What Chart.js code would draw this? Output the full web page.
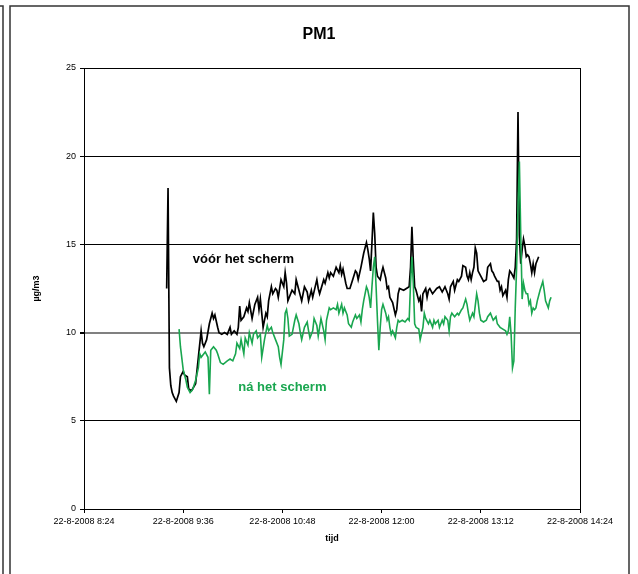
<!DOCTYPE html>
<html>
<head>
<meta charset="utf-8">
<script src="https://cdn.jsdelivr.net/npm/chart.js@4"></script>
<style>
    html, body { margin: 0; padding: 0; background: #fff; }
    #wrap { position: relative; width: 638px; height: 574px; }
</style>
</head>
<body>
<div id="wrap"><canvas id="pmChart"></canvas></div>
<script>
// Measured PM1 values, 22-8-2008
const blackTimes = ['9:24','9:25','9:26','9:27','9:28','9:29','9:31','9:33','9:34','9:36','9:37','9:39','9:40','9:42','9:45','9:47','9:49','9:50','9:51','9:53','9:55','9:57','9:58','9:59',
    '10:01','10:02','10:04','10:06','10:08','10:10','10:11','10:13','10:15','10:16','10:17','10:18','10:20','10:22','10:23','10:24','10:26','10:28','10:30','10:31','10:32','10:33','10:34','10:36','10:37','10:38','10:40','10:41','10:43','10:44','10:45','10:47','10:49','10:50','10:51','10:52','10:55','10:57','10:58',
    '11:00','11:02','11:04','11:06','11:07','11:09','11:10','11:13','11:14','11:15','11:18','11:19','11:21','11:22','11:23','11:25','11:27','11:29','11:30','11:31','11:32','11:34','11:35','11:37','11:39','11:41','11:42','11:43','11:45','11:47','11:49','11:50','11:51','11:52','11:53','11:54','11:55','11:56','11:57','11:59',
    '12:00','12:01','12:03','12:04','12:05','12:06','12:08','12:10','12:11','12:12','12:13','12:16','12:18','12:20','12:21','12:22','12:23','12:24','12:25','12:27','12:28','12:29','12:30','12:32','12:33','12:34','12:35','12:37','12:39','12:40','12:42','12:44','12:46','12:48','12:49','12:50','12:52','12:53','12:55','12:56','12:58','12:59',
    '13:01','13:02','13:03','13:04','13:05','13:06','13:07','13:08','13:09','13:10','13:12','13:14','13:16','13:17','13:19','13:20','13:21','13:22','13:24','13:25','13:26','13:27','13:28','13:30','13:31','13:32','13:33','13:34','13:36','13:37','13:38','13:39','13:40','13:41','13:42','13:43','13:44','13:45','13:46','13:47','13:48','13:49','13:50','13:51','13:52','13:53','13:54'];
const blackValues = [12.5,18.2,8.0,7.0,6.6,6.4,6.1,6.6,7.5,7.8,7.6,7.5,6.8,6.7,7.1,8.6,10.1,9.4,9.2,9.6,10.5,11.1,10.8,11.0,
    10.3,10.0,9.9,10.0,9.9,10.3,9.9,10.1,9.9,10.3,11.5,10.7,10.9,11.4,11.2,11.7,10.8,11.6,12.0,11.3,11.9,11.1,10.3,11.1,10.9,11.8,12.6,12.2,12.5,12.4,12.0,13.0,12.6,13.4,12.8,11.8,12.4,12.2,13.0,
    12.4,11.8,12.6,12.3,11.8,12.4,12.0,13.0,12.5,12.2,13.0,12.8,13.4,13.1,13.4,13.2,13.7,13.4,13.8,13.3,13.6,12.8,12.5,12.5,13.0,13.5,13.4,13.0,13.7,14.5,15.1,14.7,14.2,13.5,15.1,16.8,15.6,13.7,13.2,13.0,
    13.4,13.7,13.1,12.5,12.6,12.0,11.7,11.0,11.3,12.2,12.5,12.4,12.5,12.6,13.7,16.0,14.1,12.6,12.4,11.8,12.0,11.2,12.2,12.5,12.0,12.4,12.5,12.2,12.4,12.5,12.6,12.3,12.6,12.2,11.9,12.6,12.9,12.4,13.0,12.9,13.2,13.8,
    13.7,13.2,13.0,13.4,13.0,13.4,13.7,14.8,14.5,13.5,13.2,12.9,13.0,13.7,13.9,13.5,13.4,13.2,12.9,12.9,12.4,12.6,12.1,12.4,12.0,13.0,13.5,13.4,13.1,13.7,15.3,22.5,15.5,13.9,14.7,15.3,14.9,14.3,14.4,14.3,13.9,13.4,13.9,13.4,13.9,14.1,14.3];

const greenTimes = ['9:33','9:34','9:36','9:37','9:38','9:39','9:41','9:43','9:45','9:47','9:48','9:49','9:51','9:52','9:54','9:55','9:56','9:58',
    '10:00','10:01','10:03','10:05','10:08','10:10','10:12','10:14','10:15','10:17','10:18','10:20','10:21','10:23','10:24','10:26','10:27','10:29','10:30','10:32','10:33','10:35','10:37','10:38','10:40','10:41','10:43','10:45','10:46','10:47','10:49','10:50','10:51','10:52','10:53','10:55','10:57','10:58',
    '11:00','11:01','11:02','11:04','11:06','11:07','11:08','11:10','11:11','11:13','11:14','11:15','11:16','11:18','11:19','11:20','11:22','11:23','11:25','11:27','11:28','11:29','11:31','11:32','11:33','11:35','11:36','11:38','11:39','11:41','11:42','11:44','11:45','11:46','11:47','11:49','11:50','11:51','11:52','11:53','11:54','11:55','11:56','11:57','11:58','11:59',
    '12:00','12:01','12:03','12:04','12:05','12:06','12:07','12:08','12:10','12:11','12:12','12:13','12:15','12:17','12:19','12:20','12:21','12:22','12:23','12:24','12:25','12:27','12:28','12:30','12:31','12:32','12:34','12:35','12:37','12:38','12:39','12:41','12:42','12:44','12:45','12:46','12:48','12:49','12:50','12:51','12:53','12:55','12:56','12:58','12:59',
    '13:01','13:02','13:03','13:04','13:06','13:07','13:09','13:10','13:11','13:12','13:14','13:16','13:17','13:19','13:20','13:21','13:23','13:24','13:26','13:28','13:30','13:31','13:32','13:33','13:34','13:35','13:36','13:37','13:38','13:39','13:40','13:41','13:42','13:43','13:44','13:45','13:46','13:47','13:48','13:49','13:50','13:51','13:52','13:53','13:55','13:57','13:58','13:59',
    '14:01','14:02','14:03'];
const greenValues = [10.2,9.2,7.9,7.6,7.3,6.9,6.6,6.8,7.3,8.0,8.8,8.6,8.8,8.9,8.6,6.5,9.0,9.2,
    9.0,8.8,8.3,8.2,8.4,8.5,8.4,8.8,9.4,9.1,9.6,8.8,9.7,9.3,10.0,9.4,9.9,10.1,9.7,9.9,8.6,9.6,10.4,10.1,10.3,10.0,9.6,9.2,8.6,8.2,9.6,11.1,11.3,10.8,9.8,9.9,10.7,11.0,
    10.5,10.0,9.6,10.3,10.6,10.1,9.7,10.1,10.8,10.4,9.8,10.3,10.8,10.1,9.6,10.7,11.4,11.3,11.4,11.3,11.6,11.1,11.6,11.1,11.4,11.0,10.5,10.3,10.6,11.0,10.8,11.0,10.6,11.3,11.8,12.6,12.4,12.0,11.4,12.6,13.7,14.3,12.6,10.7,9.0,10.3,
    11.3,11.6,11.1,10.7,10.9,10.3,9.9,10.1,9.7,10.3,10.7,10.6,10.7,10.6,10.8,10.7,12.8,14.3,12.8,10.5,10.3,10.2,9.6,10.3,11.1,10.8,10.5,10.7,10.3,10.7,10.5,10.7,10.3,10.7,10.5,10.9,10.7,10.1,10.9,11.1,10.9,11.1,11.0,11.3,11.4,
    11.9,11.6,11.1,10.7,11.1,10.9,12.2,11.8,11.1,10.7,10.6,10.7,10.9,11.1,10.9,10.7,10.9,10.5,10.3,10.2,10.1,9.9,10.1,10.9,9.9,8.0,8.4,11.4,13.7,17.1,19.7,15.5,11.9,12.8,12.4,12.2,12.2,11.6,11.8,11.1,11.4,11.3,11.4,11.8,12.4,12.9,12.4,11.8,
    11.4,11.8,12.0];

// Axis settings (minutes since midnight)
const timeMin = 504;   // 8:24
const timeMax = 864;   // 14:24
const timeStep = 72;
const yTicks = [0, 5, 10, 15, 20, 25];

// Labels written inside the plot
const noteTexts = ['vóór het scherm', 'ná het scherm'];
const noteTimes = ['9:43', '10:16'];
const noteValues = [14.15, 6.9];
const noteColors = ['#000000', '#19a64f'];

const fontFamily = "Arial, 'Liberation Sans', sans-serif";

function toMinutes(t) {
    const parts = t.split(':');
    return Number(parts[0]) * 60 + Number(parts[1]);
}

function formatTick(v) {
    const h = Math.floor(v / 60);
    const m = v % 60;
    return '22-8-2008 ' + h + ':' + (m < 10 ? '0' + m : m);
}

const blackData = blackTimes.map((t, i) => ({ x: toMinutes(t), y: blackValues[i] }));
const greenData = greenTimes.map((t, i) => ({ x: toMinutes(t), y: greenValues[i] }));

// Frame round the chart, right edge of the plot area and the text labels
const framePlugin = {
    id: 'frame',
    afterDraw(chart) {
        const ctx = chart.ctx;
        const area = chart.chartArea;
        ctx.save();
        ctx.strokeStyle = '#000';
        ctx.lineWidth = 1;
        ctx.beginPath();
        ctx.moveTo(Math.round(area.right) + 0.5, area.top);
        ctx.lineTo(Math.round(area.right) + 0.5, area.bottom);
        ctx.stroke();

        // outer frame, open at the bottom edge of the window
        ctx.strokeStyle = '#333';
        ctx.lineWidth = 1.5;
        ctx.beginPath();
        ctx.moveTo(10, 574);
        ctx.lineTo(10, 6);
        ctx.lineTo(629, 6);
        ctx.lineTo(629, 574);
        ctx.moveTo(0, 6);
        ctx.lineTo(3, 6);
        ctx.lineTo(3, 574);
        ctx.stroke();

        const xs = chart.scales.x;
        const ys = chart.scales.y;
        ctx.font = 'bold 13px ' + fontFamily;
        ctx.textAlign = 'left';
        ctx.textBaseline = 'middle';
        noteTexts.forEach((txt, i) => {
            ctx.fillStyle = noteColors[i];
            ctx.fillText(txt, xs.getPixelForValue(toMinutes(noteTimes[i])), ys.getPixelForValue(noteValues[i]));
        });
        ctx.restore();
    }
};

const ctx = document.getElementById('pmChart').getContext('2d');

const pmChart = new Chart(ctx, {
    type: 'line',
    data: {
        datasets: [{
            label: 'vóór het scherm',
            data: blackData,
            borderColor: '#000000',
            borderWidth: 1.7,
            pointRadius: 0,
            tension: 0,
            order: 1
        }, {
            label: 'ná het scherm',
            data: greenData,
            borderColor: '#19a64f',
            borderWidth: 1.6,
            pointRadius: 0,
            tension: 0,
            order: 0
        }]
    },
    options: {
        responsive: true,
        maintainAspectRatio: false,
        animation: false,
        layout: { padding: 0 },
        plugins: {
            legend: { display: false },
            tooltip: { enabled: false },
            title: {
                display: true,
                text: 'PM1',
                color: '#000',
                font: { family: fontFamily, size: 16, weight: 'bold' },
                padding: { top: 25, bottom: 23.8 }
            }
        },
        scales: {
            x: {
                type: 'linear',
                min: timeMin,
                max: timeMax,
                afterBuildTicks(scale) {
                    const ticks = [];
                    for (let v = timeMin; v <= timeMax; v += timeStep) ticks.push({ value: v });
                    scale.ticks = ticks;
                },
                afterFit(scale) {
                    scale.height = 65;
                    scale.paddingLeft = 0;
                    scale.paddingRight = 58;
                },
                ticks: {
                    color: '#000',
                    font: { family: fontFamily, size: 9 },
                    padding: 3,
                    maxRotation: 0,
                    autoSkip: false,
                    callback: (v) => formatTick(v)
                },
                grid: {
                    drawOnChartArea: false,
                    drawTicks: true,
                    tickLength: 4,
                    color: '#000'
                },
                border: { color: '#000', width: 1 },
                title: {
                    display: true,
                    text: 'tijd',
                    color: '#000',
                    font: { family: fontFamily, size: 9, weight: 'bold' },
                    padding: { top: 0, bottom: 29.6 }
                }
            },
            y: {
                min: 0,
                max: 25,
                afterBuildTicks(scale) {
                    scale.ticks = yTicks.map(v => ({ value: v }));
                },
                afterFit(scale) {
                    scale.width = 84;
                },
                ticks: {
                    color: '#000',
                    font: { family: fontFamily, size: 9 },
                    padding: 4
                },
                grid: {
                    color: (c) => (c.tick && c.tick.value === 10 ? '#808080' : '#000'),
                    lineWidth: (c) => (c.tick && c.tick.value === 10 ? 2 : 1),
                    tickColor: '#000',
                    tickLength: 4
                },
                border: { color: '#000', width: 1 },
                title: {
                    display: true,
                    text: 'µg/m3',
                    color: '#000',
                    font: { family: fontFamily, size: 9, weight: 'bold' },
                    padding: { top: 31.6, bottom: 0 }
                }
            }
        }
    },
    plugins: [framePlugin]
});
</script>
</body>
</html>
